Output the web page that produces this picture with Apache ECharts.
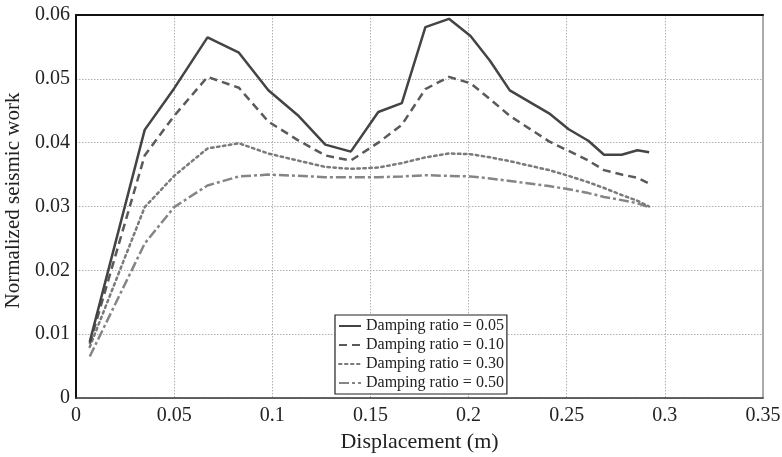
<!DOCTYPE html>
<html>
<head>
<meta charset="utf-8">
<script src="https://cdn.jsdelivr.net/npm/echarts@6/dist/echarts.min.js"></script>
<style>
  html, body { margin: 0; padding: 0; background: #fff; }
  #chart { width: 782px; height: 457px; }
</style>
</head>
<body>
<div id="chart"></div>
<script>
// Displacement sample points (m), shared by all damping ratios
const displacement = [0.007, 0.035, 0.05, 0.067, 0.083, 0.098, 0.113, 0.127, 0.14, 0.154, 0.166, 0.178, 0.19, 0.201, 0.211, 0.221, 0.241, 0.251, 0.261, 0.269, 0.278, 0.286, 0.292];

// Normalized seismic work for each damping ratio
const work005 = [0.0088, 0.042, 0.0485, 0.0565, 0.0541, 0.0482, 0.0443, 0.0397, 0.0386, 0.0448, 0.0462, 0.0581, 0.0594, 0.0567, 0.0528, 0.0482, 0.0446, 0.0421, 0.0403, 0.0381, 0.0381, 0.0388, 0.0385];
const work010 = [0.0085, 0.038, 0.0442, 0.0503, 0.0486, 0.0433, 0.0404, 0.038, 0.0372, 0.040, 0.0428, 0.0484, 0.0503, 0.0493, 0.0468, 0.0442, 0.0402, 0.0387, 0.0372, 0.0357, 0.035, 0.0345, 0.0336];
const work030 = [0.008, 0.0299, 0.0348, 0.0391, 0.0399, 0.0383, 0.0372, 0.0362, 0.0359, 0.0361, 0.0368, 0.0377, 0.0383, 0.0382, 0.0377, 0.0371, 0.0357, 0.0348, 0.0338, 0.0329, 0.0318, 0.0309, 0.0300];
const work050 = [0.0065, 0.0242, 0.0299, 0.0333, 0.0347, 0.0350, 0.0348, 0.0346, 0.0346, 0.0346, 0.0347, 0.0349, 0.0348, 0.0347, 0.0344, 0.034, 0.0332, 0.0327, 0.0321, 0.0315, 0.031, 0.0305, 0.0299];

const seriesNames = ['Damping ratio = 0.05', 'Damping ratio = 0.10', 'Damping ratio = 0.30', 'Damping ratio = 0.50'];

const FONT = '"Liberation Serif", "Times New Roman", serif';

function pairs(ys) {
  return displacement.map((x, i) => [x, ys[i]]);
}

const styles = [
  { color: '#444444', type: 'solid', width: 2.5 },
  { color: '#5a5a5a', type: [8, 5], width: 2.5 },
  { color: '#7a7a7a', type: [2.5, 3.5], width: 2.5 },
  { color: '#858585', type: [10, 3, 3, 3], width: 2.5 }
];

const values = [work005, work010, work030, work050];

const gridLine = { show: true, lineStyle: { color: '#b0b0b0', type: [1.5, 1.5], width: 1 } };

const chart = echarts.init(document.getElementById('chart'), null, { renderer: 'canvas' });

chart.setOption({
  animation: false,
  backgroundColor: '#ffffff',
  grid: { left: 76, right: 19, top: 15, bottom: 59, containLabel: false, outerBoundsMode: 'none' },
  legend: {
    orient: 'vertical',
    left: 335,
    top: 315,
    padding: [3, 3, 3, 3],
    itemGap: 3,
    itemWidth: 22,
    itemHeight: 14,
    backgroundColor: '#ffffff',
    borderColor: '#222222',
    borderWidth: 1.2,
    itemStyle: { opacity: 0 },
    textStyle: { fontFamily: FONT, fontSize: 16, color: '#222', lineHeight: 16 },
    data: seriesNames
  },
  xAxis: [
    {
      type: 'value',
      min: 0,
      max: 0.35,
      interval: 0.05,
      name: 'Displacement (m)',
      nameLocation: 'middle',
      nameGap: 32,
      nameTextStyle: { fontFamily: FONT, fontSize: 22, color: '#222' },
      axisLine: { show: true, lineStyle: { color: '#333', width: 1.5 } },
      axisTick: { show: false },
      axisLabel: { fontFamily: FONT, fontSize: 20, color: '#222', margin: 8 },
      splitLine: gridLine
    },
    {
      type: 'value',
      position: 'top',
      min: 0,
      max: 0.35,
      axisLine: { show: true, onZero: false, lineStyle: { color: '#111', width: 2 } },
      axisTick: { show: false },
      axisLabel: { show: false },
      splitLine: { show: false }
    }
  ],
  yAxis: [
    {
      type: 'value',
      min: 0,
      max: 0.06,
      interval: 0.01,
      name: 'Normalized seismic work',
      nameLocation: 'middle',
      nameGap: 46,
      nameTextStyle: { fontFamily: FONT, fontSize: 21, color: '#222', padding: [0, 0, 0, 12] },
      axisLine: { show: true, lineStyle: { color: '#111', width: 2 } },
      axisTick: { show: false },
      axisLabel: { fontFamily: FONT, fontSize: 20, color: '#222', margin: 6 },
      splitLine: gridLine
    },
    {
      type: 'value',
      position: 'right',
      min: 0,
      max: 0.06,
      axisLine: { show: true, onZero: false, lineStyle: { color: '#aaaaaa', width: 2 } },
      axisTick: { show: false },
      axisLabel: { show: false },
      splitLine: { show: false }
    }
  ],
  series: seriesNames.map((name, i) => ({
    name: name,
    type: 'line',
    xAxisIndex: 0,
    yAxisIndex: 0,
    data: pairs(values[i]),
    showSymbol: false,
    symbol: 'none',
    smooth: false,
    color: styles[i].color,
    lineStyle: {
      color: styles[i].color,
      width: styles[i].width,
      type: styles[i].type,
      cap: i === 2 ? 'round' : 'butt'
    },
    z: 10 - i
  }))
});
</script>
</body>
</html>
